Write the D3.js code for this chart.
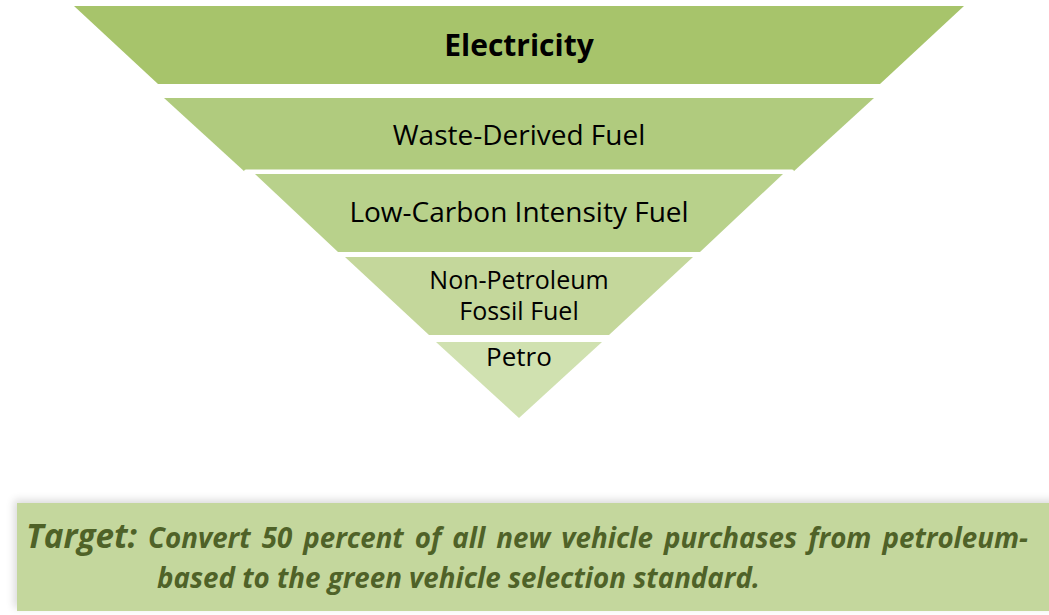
<!DOCTYPE html>
<html>
<head>
    <style>
        body { margin: 0; background: #fff; }
        .layer-label { font-family: "Open Sans", sans-serif; fill: #000; text-anchor: middle; }
        .target { font-family: "Open Sans", sans-serif; font-style: italic; font-weight: bold; fill: #4f6228; }
    </style>
    <script src="https://d3js.org/d3.v7.min.js"></script>
</head>
<body>
    <div id="chart"></div>

    <script>
        // Pyramid layers, widest at the top
        const layerNames = ["Electricity", "Waste-Derived Fuel", "Low-Carbon Intensity Fuel", "Non-Petroleum Fossil Fuel", "Petro"];
        const layerLines = [["Electricity"], ["Waste-Derived Fuel"], ["Low-Carbon Intensity Fuel"], ["Non-Petroleum", "Fossil Fuel"], ["Petro"]];
        const layerColors = ["#a7c46b", "#b0cb7e", "#b8d18b", "#c4d79b", "#d0e1b0"];

        const targetLabel = "Target:";
        const targetLine1 = "Convert 50 percent of all new vehicle purchases from petroleum-";
        const targetLine2 = "based to the green vehicle selection standard.";

        const W = 1049, H = 615;
        const cx = 519;

        // vertical extent of each layer (top, bottom) and half widths (top, bottom)
        const bands = [[6, 84], [98, 172], [174, 252], [257, 335], [342, 418]];
        const widths = [[445, 361], [355, 274], [264, 181], [174, 90], [83, 0]];

        const svg = d3.select("#chart").append("svg")
            .attr("width", W)
            .attr("height", H);

        const layers = svg.selectAll("g.layer")
            .data(layerNames)
            .enter()
            .append("g")
            .attr("class", "layer");

        layers.append("path")
            .attr("fill", (d, i) => layerColors[i])
            .attr("d", (d, i) => {
                const [t, b] = bands[i];
                const [ht, hb] = widths[i];
                return `M${cx - ht},${t}L${cx + ht},${t}L${cx + hb},${b}L${cx - hb},${b}Z`;
            });

        // white separator above the third layer
        svg.append("line")
            .attr("x1", 246).attr("x2", 792)
            .attr("y1", 171.5).attr("y2", 171.5)
            .attr("stroke", "#fff")
            .attr("stroke-width", 4)
            .attr("stroke-linecap", "round");

        const labelY = [[45], [135], [212], [280, 311], [357]];
        const labelSize = [30, 28, 28, 25, 26];
        layers.each(function (d, i) {
            const g = d3.select(this);
            layerLines[i].forEach((line, j) => {
                g.append("text")
                    .attr("class", "layer-label")
                    .attr("x", cx)
                    .attr("y", labelY[i][j])
                    .attr("dy", "0.35em")
                    .style("font-size", labelSize[i] + "px")
                    .style("font-weight", i === 0 ? "bold" : "normal")
                    .text(line);
            });
        });

        // target box with soft shadow
        const defs = svg.append("defs");
        const f = defs.append("filter").attr("id", "shadow")
            .attr("x", "-5%").attr("y", "-20%").attr("width", "110%").attr("height", "140%");
        f.append("feGaussianBlur").attr("in", "SourceAlpha").attr("stdDeviation", 4);
        f.append("feOffset").attr("dx", -3).attr("dy", -3).attr("result", "blur");
        f.append("feComponentTransfer").append("feFuncA").attr("type", "linear").attr("slope", 0.15);
        const m = f.append("feMerge");
        m.append("feMergeNode");
        m.append("feMergeNode").attr("in", "SourceGraphic");

        svg.append("rect")
            .attr("x", 17).attr("y", 503)
            .attr("width", W - 17 + 10).attr("height", 108)
            .attr("fill", "#c4d79d")
            .attr("filter", "url(#shadow)");

        // second line first, to size the body font
        const line2 = svg.append("text")
            .attr("class", "target")
            .attr("x", 157).attr("y", 588)
            .style("font-size", "26px")
            .text(targetLine2);
        const bodySize = 26 * 603 / line2.node().getComputedTextLength();
        line2.style("font-size", bodySize + "px");

        // first line: justified word by word between x=26 and x=1028
        const words = [{ t: targetLabel, s: bodySize * 1.2 }]
            .concat(targetLine1.split(" ").map(w => ({ t: w, s: bodySize })));
        const nodes = words.map(w => svg.append("text")
            .attr("class", "target")
            .attr("y", 548)
            .style("font-size", w.s + "px")
            .text(w.t));
        const lens = nodes.map(n => n.node().getComputedTextLength());
        const gap = (1028 - 26 - d3.sum(lens)) / (words.length - 1);
        let x = 26;
        nodes.forEach((n, i) => {
            n.attr("x", x);
            x += lens[i] + gap;
        });
    </script>
</body>
</html>
